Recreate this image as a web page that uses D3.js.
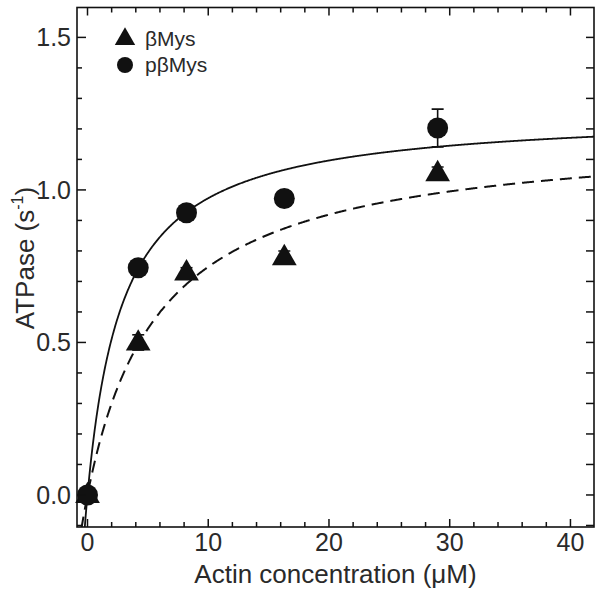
<!DOCTYPE html>
<html><head><meta charset="utf-8">
<script src="https://cdn.jsdelivr.net/npm/d3@7"></script>
<style>body{margin:0;background:#fff}svg{display:block}text{font-family:Arial,"Liberation Sans",sans-serif}</style>
</head><body><svg id="c" width="601" height="594"></svg>
<script>
// Data
const actin = [0, 4.2, 8.2, 16.3, 29.0];
const bMys = [0.0, 0.50, 0.73, 0.78, 1.055];
const bMysErr = [0.01, 0.025, 0.015, 0.02, 0.02];
const pbMys = [0.0, 0.745, 0.925, 0.972, 1.203];
const pbMysErr = [0.01, 0.015, 0.015, 0.025, 0.062];
// Hyperbolic fit parameters (Vmax, K)
const fitSolid = [1.256, 2.91];   // pβMys
const fitDashed = [1.192, 5.94];  // βMys
const xTicks = [0, 10, 20, 30, 40];
const yTicks = [0.0, 0.5, 1.0, 1.5];
const legendLabels = ["βMys", "pβMys"];

const svg = d3.select("#c");
const L = 77, R = 594, T = 7.5, B = 527;
const x = d3.scaleLinear().domain([-0.87, 41.95]).range([L, R]);
const y = d3.scaleLinear().domain([-0.105, 1.598]).range([B, T]);
const ink = "#111", txt = "#2a2a2a";

svg.append("defs").append("clipPath").attr("id","clip")
  .append("rect").attr("x",L).attr("y",T).attr("width",R-L).attr("height",B-T);

// Fit curves
function curve(p){
  const pts = d3.range(-0.5, 42.01, 0.05).map(v => [v, p[0]*v/(p[1]+v)]);
  return d3.line().x(d=>x(d[0])).y(d=>y(d[1]))(pts);
}
const g = svg.append("g").attr("clip-path","url(#clip)");
g.append("path").attr("d",curve(fitSolid)).attr("fill","none").attr("stroke",ink).attr("stroke-width",1.8);
g.append("path").attr("d",curve(fitDashed)).attr("fill","none").attr("stroke",ink).attr("stroke-width",2)
  .attr("stroke-dasharray","12,7");

// Error bars
function errbars(vals, errs){
  actin.forEach((a,i)=>{
    const x0 = x(a), y1 = y(vals[i]+errs[i]), y2 = y(vals[i]-errs[i]);
    g.append("line").attr("x1",x0).attr("x2",x0).attr("y1",y1).attr("y2",y2).attr("stroke",ink).attr("stroke-width",1.6);
    [y1,y2].forEach(yy=>g.append("line").attr("x1",x0-6).attr("x2",x0+6).attr("y1",yy).attr("y2",yy).attr("stroke",ink).attr("stroke-width",1.6));
  });
}
errbars(pbMys, pbMysErr);
errbars(bMys, bMysErr);

const tri = d3.symbol().type(d3.symbolTriangle);
// Triangles
svg.selectAll(".tri").data(actin).join("path")
  .attr("d", tri.size(265)())
  .attr("transform",(d,i)=>`translate(${x(d)},${y(bMys[i])+1})`)
  .attr("fill",ink);
// Circles
svg.selectAll(".cir").data(actin).join("circle")
  .attr("cx",d=>x(d)).attr("cy",(d,i)=>y(pbMys[i])).attr("r",10.5).attr("fill",ink);

// Frame
svg.append("rect").attr("x",L).attr("y",T).attr("width",R-L).attr("height",B-T)
  .attr("fill","none").attr("stroke",ink).attr("stroke-width",1.6);

// Ticks
const xMinor = d3.range(0, 42, 2);
const yMinor = d3.range(-0.1, 1.6, 0.1).map(v=>+v.toFixed(2));
function isMajorX(v){return xTicks.includes(v);}
function isMajorY(v){return yTicks.some(t=>Math.abs(t-v)<1e-6);}
xMinor.forEach(v=>{
  const len = isMajorX(v)?8:5, xx = x(v);
  svg.append("line").attr("x1",xx).attr("x2",xx).attr("y1",B).attr("y2",B-len).attr("stroke",ink).attr("stroke-width",1.5);
  svg.append("line").attr("x1",xx).attr("x2",xx).attr("y1",T).attr("y2",T+len).attr("stroke",ink).attr("stroke-width",1.5);
});
yMinor.forEach(v=>{
  const len = isMajorY(v)?9:5, yy = y(v);
  svg.append("line").attr("x1",L).attr("x2",L+len).attr("y1",yy).attr("y2",yy).attr("stroke",ink).attr("stroke-width",1.5);
  svg.append("line").attr("x1",R).attr("x2",R-8).attr("y1",yy).attr("y2",yy).attr("stroke",ink).attr("stroke-width",1.5);
});

// Tick labels
svg.selectAll(".xl").data(xTicks).join("text")
  .attr("x",d=>x(d)).attr("y",551).attr("text-anchor","middle")
  .attr("font-size",25).attr("fill",txt).text(d=>d);
svg.selectAll(".yl").data(yTicks).join("text")
  .attr("x",71).attr("y",d=>y(d)+9).attr("text-anchor","end")
  .attr("font-size",25).attr("fill",txt).text(d=>d.toFixed(1));

// Axis titles
svg.append("text").attr("x",(L+R)/2).attr("y",583).attr("text-anchor","middle")
  .attr("font-size",26).attr("fill",txt).text("Actin concentration (μM)");
const yt = svg.append("text").attr("transform","translate(34,258) rotate(-90)")
  .attr("text-anchor","middle").attr("font-size",26).attr("fill",txt);
yt.append("tspan").text("ATPase (s");
yt.append("tspan").attr("font-size",16).attr("dy",-11).text("-1");
yt.append("tspan").attr("dy",11).text(")");

// Legend
svg.append("path").attr("d",d3.symbol().type(d3.symbolTriangle).size(180)())
  .attr("transform","translate(125,39)").attr("fill",ink);
svg.append("circle").attr("cx",125).attr("cy",65).attr("r",8).attr("fill",ink);
legendLabels.forEach((t,i)=>svg.append("text").attr("x",145).attr("y",46+i*26)
  .attr("font-size",21).attr("fill",txt).text(t));
</script></body></html>
